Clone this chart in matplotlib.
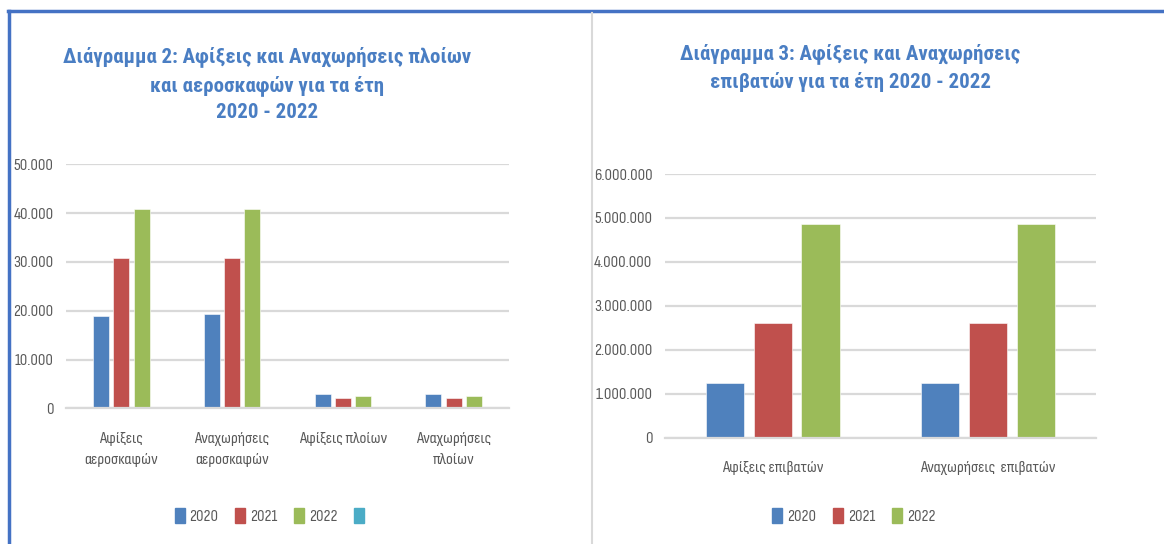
import matplotlib
matplotlib.use("Agg")
import matplotlib.pyplot as plt
import numpy as np
from matplotlib.lines import Line2D
from matplotlib.patches import Patch
from matplotlib.ticker import FuncFormatter

# ---------------- data ----------------
years = ["2020", "2021", "2022"]
colors = ["#4F81BD", "#C0504D", "#9BBB59"]
extra_legend_color = "#4BACC6"

left_categories = ["Αφίξεις\nαεροσκαφών", "Αναχωρήσεις\nαεροσκαφών", "Αφίξεις πλοίων", "Αναχωρήσεις\nπλοίων"]
left_2020 = [19000, 19400, 2870, 2870]
left_2021 = [30900, 30900, 2050, 2050]
left_2022 = [40800, 40800, 2460, 2460]
left_ticks = [0, 10000, 20000, 30000, 40000, 50000]

right_categories = ["Αφίξεις επιβατών", "Αναχωρήσεις  επιβατών"]
right_2020 = [1240000, 1240000]
right_2021 = [2600000, 2600000]
right_2022 = [4860000, 4860000]
right_ticks = [0, 1000000, 2000000, 3000000, 4000000, 5000000, 6000000]

title_left = "Διάγραμμα 2: Αφίξεις και Αναχωρήσεις πλοίων\nκαι αεροσκαφών για τα έτη\n2020 - 2022"
title_right = "Διάγραμμα 3: Αφίξεις και Αναχωρήσεις\nεπιβατών για τα έτη 2020 - 2022"

# ---------------- fonts ----------------
body_font = ["Sofia Sans Condensed", "Roboto Condensed", "DejaVu Sans"]
title_font = ["Roboto Condensed", "DejaVu Sans"]
plt.rcParams["font.family"] = body_font

W, H = 1164, 544
fig = plt.figure(figsize=(W / 100, H / 100), dpi=100)

def fx(px):
    return px / W

def fy(py):
    return 1 - py / H

grid_c = "#D9D9D9"
tick_c = "#595959"
title_c = "#4A7EC3"
fs = 12

def fmt(v, _):
    return f"{int(v):,}".replace(",", ".")

def style_axes(ax, ticks, ymax):
    ax.set_ylim(0, ymax)
    ax.set_yticks(ticks)
    ax.yaxis.set_major_formatter(FuncFormatter(fmt))
    for s in ["top", "right", "left"]:
        ax.spines[s].set_visible(False)
    ax.spines["bottom"].set_color(grid_c)
    ax.spines["bottom"].set_linewidth(1.6)
    ax.grid(axis="y", color=grid_c, linewidth=1.6)
    ax.set_axisbelow(True)
    ax.tick_params(axis="y", length=0, pad=9, labelsize=fs, labelcolor=tick_c)
    ax.tick_params(axis="x", length=0, pad=17, labelsize=fs, labelcolor=tick_c)

title_kw = dict(ha="center", va="center", fontsize=15, fontweight="bold", fontstyle="normal",
                color=title_c, family=title_font, linespacing=1.5)
legend_kw = dict(loc="center", frameon=False, fontsize=fs, handlelength=0.6, handleheight=1.0,
                 handletextpad=0.3, columnspacing=1.0, labelcolor=tick_c)

# ---------------- left chart ----------------
axL = fig.add_axes([fx(66), fy(408.3), fx(509 - 66), (408.3 - 164.3) / H])
xL = np.arange(len(left_categories))
step, bw = 0.183, 0.145
for i, (vals, c) in enumerate(zip([left_2020, left_2021, left_2022], colors)):
    axL.bar(xL + (i - 1) * step, vals, width=bw, color=c, edgecolor="white", linewidth=0.4, label=years[i])
axL.set_xlim(-0.5, len(left_categories) - 0.5)
axL.set_xticks(xL)
axL.set_xticklabels(left_categories, linespacing=1.6)
style_axes(axL, left_ticks, 50000)

handlesL = [Patch(color=c) for c in colors] + [Patch(color=extra_legend_color)]
fig.legend(handlesL, years + [""], bbox_to_anchor=(fx(272), fy(516)), ncol=4, **legend_kw)

fig.text(fx(267), fy(84), title_left, **title_kw)

# ---------------- right chart ----------------
axR = fig.add_axes([fx(665), fy(437.7), fx(1095.7 - 665), (437.7 - 174) / H])
xR = np.arange(len(right_categories))
stepR, bwR = 0.222, 0.177
for i, (vals, c) in enumerate(zip([right_2020, right_2021, right_2022], colors)):
    axR.bar(xR + (i - 1) * stepR, vals, width=bwR, color=c, edgecolor="white", linewidth=0.4, label=years[i])
axR.set_xlim(-0.5, len(right_categories) - 0.5)
axR.set_xticks(xR)
axR.set_xticklabels(right_categories)
style_axes(axR, right_ticks, 6000000)

handlesR = [Patch(color=c) for c in colors]
fig.legend(handlesR, years, bbox_to_anchor=(fx(854), fy(516)), ncol=3, **legend_kw)

fig.text(fx(850), fy(68), title_right, **title_kw)

# ---------------- frame lines ----------------
fig.add_artist(Line2D([fx(8), 1], [fy(11), fy(11)], color="#4472C4", linewidth=2.5))
fig.add_artist(Line2D([fx(9), fx(9)], [fy(11), 0], color="#4472C4", linewidth=2.5))
fig.add_artist(Line2D([fx(592), fx(592)], [fy(13), 0], color="#D9D9D9", linewidth=1.5))

fig.savefig("out.png", dpi=100, facecolor="white")
